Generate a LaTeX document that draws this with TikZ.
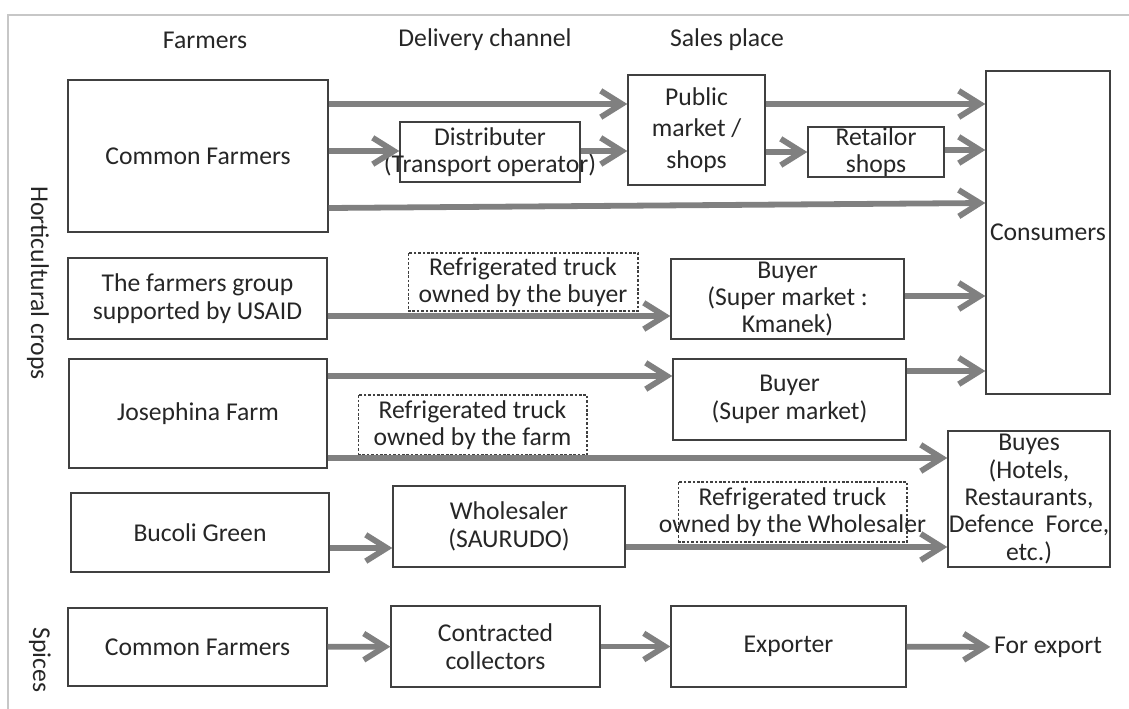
\documentclass[tikz,border=0pt]{standalone}
\usepackage{fontspec}
\setmainfont{Carlito}
\usetikzlibrary{arrows.meta}

\begin{document}
\begin{tikzpicture}[x=0.02cm, y=-0.02cm,
    every node/.style={font=\fontsize{14.6}{15.6}\selectfont, text=black!85, align=center},
    box/.style={draw=black!75, line width=0.8pt, inner sep=0pt},
    truck/.style={draw=black!75, line width=0.6pt, dash pattern=on 1.5pt off 1pt, inner sep=0pt},
    flow/.style={draw=black!50, line width=3.3pt, -{Straight Barb[length=12pt, width=15pt]}}]
      \useasboundingbox (0,0) rectangle (1129,709);
      \draw [black!22, line width=1.2pt] (8,709) -- (8,15) -- (1129,15);

      \node (hfarm) at (205,40) {Farmers};
      \node (hdeliv) at (485,40) {Delivery channel};
      \node (hsales) at (727,40) {Sales place};
      \node [rotate=-90] (hort) at (38,283) {Horticultural crops};
      \node [rotate=-90] (spice) at (40,660) {Spices};

      % horticultural crops
      \node [box, minimum width=5.2cm, minimum height=3.04cm] (cf1) at (198,156) {Common Farmers};
      \node [box, minimum width=3.6cm, minimum height=1.2cm,
        label={center:Distributer\\(Transport operator)}] (dist) at (490,152) {};
      \node [box, minimum width=2.74cm, minimum height=2.2cm] (pub) at (696.5,130) {Public\\[2.5pt]market /\\[2.5pt]shops};
      \node [box, minimum width=2.72cm, minimum height=1cm,
        label={center:Retailor\\shops}] (ret) at (876,152) {};
      \node [box, minimum width=2.48cm, minimum height=6.46cm] (cons) at (1048,232.5) {Consumers};

      \node [box, minimum width=5.18cm, minimum height=1.62cm] (usaid) at (197.5,298.5) {The farmers group\\supported by USAID};
      \node [truck, minimum width=4.6cm, minimum height=1.16cm] (trbuy) at (523,282) {Refrigerated truck\\owned by the buyer};
      \node [box, minimum width=4.66cm, minimum height=1.6cm] (kman) at (787.5,299) {Buyer\\(Super market :\\Kmanek)};

      \node [box, minimum width=5.16cm, minimum height=2.18cm] (jos) at (198,413.5) {Josephina Farm};
      \node [truck, minimum width=4.58cm, minimum height=1.2cm] (trfarm) at (472.5,425) {Refrigerated truck\\owned by the farm};
      \node [box, minimum width=4.66cm, minimum height=1.62cm] (smkt) at (789.5,399.5) {Buyer\\(Super market)};
      \node [box, minimum width=3.24cm, minimum height=2.72cm] (hotel) at (1029,499) {Buyes\\(Hotels,\\Restaurants,\\Defence\ \ Force,\\etc.)};

      \node [box, minimum width=5.16cm, minimum height=1.58cm] (bucoli) at (200,532.5) {Bucoli Green};
      \node [box, minimum width=4.64cm, minimum height=1.62cm] (whole) at (509,526.5) {Wholesaler\\(SAURUDO)};
      \node [truck, minimum width=4.58cm, minimum height=1.2cm,
        label={center:Refrigerated truck\\owned by the Wholesaler}] (trwhole) at (792.5,512) {};

      % spices
      \node [box, minimum width=5.18cm, minimum height=1.56cm] (cf2) at (197.5,647) {Common Farmers};
      \node [box, minimum width=4.18cm, minimum height=1.62cm] (coll) at (495.5,646.5) {Contracted\\collectors};
      \node [box, minimum width=4.7cm, minimum height=1.62cm] (expo) at (788.5,646.5) {Exporter};
      \node [inner sep=2pt] (export) at (1048,647) {For export};

      \draw [flow] (cf1.east |- 0,104) -- (pub.west |- 0,104);
      \draw [flow] (cf1.east |- 0,151) -- (dist.west |- 0,151);
      \draw [flow] (dist.east |- 0,151) -- (pub.west |- 0,151);
      \draw [flow] (pub.east |- 0,104) -- (cons.west |- 0,104);
      \draw [flow] (pub.east |- 0,152) -- (ret.west |- 0,152);
      \draw [flow] (ret.east |- 0,150) -- (cons.west |- 0,150);
      \draw [flow] (cf1.east |- 0,208) -- (cons.west |- 0,203);

      \draw [flow] (usaid.east |- 0,316) -- (kman.west |- 0,316);
      \draw [flow] (kman.east |- 0,296) -- (cons.west |- 0,296);
      \draw [flow] (jos.east |- 0,376) -- (smkt.west |- 0,376);
      \draw [flow] (smkt.east |- 0,371) -- (cons.west |- 0,371);
      \draw [flow] (jos.east |- 0,458) -- (hotel.west |- 0,458);
      \draw [flow] (bucoli.east |- 0,548) -- (whole.west |- 0,548);
      \draw [flow] (whole.east |- 0,547) -- (hotel.west |- 0,547);

      \draw [flow] (cf2) -- (coll);
      \draw [flow] (coll) -- (expo);
      \draw [flow] (expo) -- (export);
\end{tikzpicture}
\end{document}
